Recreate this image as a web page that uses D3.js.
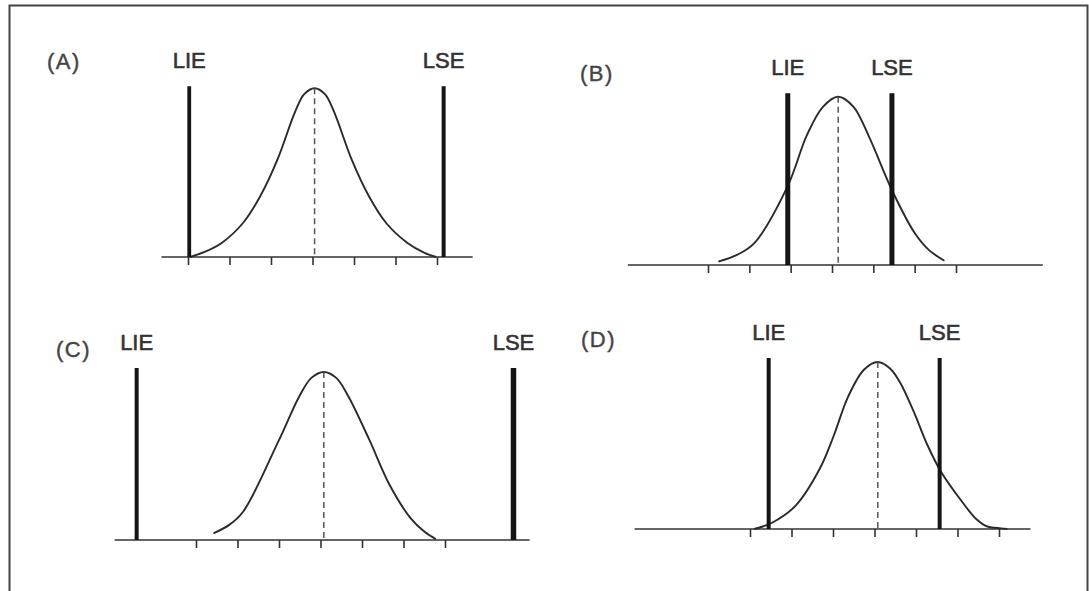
<!DOCTYPE html>
<html>
<head>
<meta charset="utf-8">
<script src="https://cdn.jsdelivr.net/npm/d3@7"></script>
<style>
  html, body { margin: 0; padding: 0; background: #fff; }
  svg { display: block; }
  text { font-family: "Liberation Sans", Arial, sans-serif; }
</style>
</head>
<body>
<svg id="chart" width="1089" height="591"></svg>
<script>
// ---------- data (x in process-standard-deviation tick units, y relative density) ----------
const panelNames = ["(A)", "(B)", "(C)", "(D)"];
const tickValues = [-3, -2, -1, 0, 1, 2, 3];
const limitLabels = ["LIE", "LSE"];

// specification limits [LIE, LSE]
const limitsA = [-2.97, 3.16];
const limitsB = [-1.07, 1.45];
const limitsC = [-4.43, 4.65];
const limitsD = [-2.55, 1.57];

// height of the limit bars (relative to curve peak = 1)
const barHeights = [1.012, 1.02, 1.024, 1.024];

// process mean
const meansA = 0.05, meansB = 0.15, meansC = 0.08, meansD = 0.08;

// extent of the base line
const axisA = [-3.64, 3.86];
const axisB = [-4.94, 5.1];
const axisC = [-4.96, 5.04];
const axisD = [-5.78, 3.76];

// distribution curves: [x, relative height]
const curveA = [[-2.95,0],[-2.6,0.03],[-2.18,0.085],[-1.68,0.2],[-1.26,0.36],[-0.84,0.58],[-0.42,0.86],[-0.2,0.965],[0.05,1],[0.3,0.965],[0.52,0.86],[0.94,0.58],[1.36,0.36],[1.78,0.2],[2.28,0.085],[2.7,0.025],[2.98,0]];
const curveB = [[-2.75,0.02],[-2.3,0.06],[-1.88,0.13],[-1.07,0.47],[-0.61,0.77],[-0.22,0.94],[0.15,1],[0.52,0.94],[0.9,0.76],[1.44,0.45],[2.0,0.19],[2.34,0.09],[2.72,0.025]];
const curveC = [[-2.58,0.04],[-2.2,0.09],[-1.86,0.17],[-1.01,0.59],[-0.5,0.86],[-0.22,0.965],[0.08,1],[0.38,0.965],[0.66,0.86],[1.17,0.6],[1.66,0.33],[2.17,0.13],[2.5,0.05],[2.78,0.005]];
const curveD = [[-2.9,0],[-2.48,0.036],[-1.9,0.14],[-1.31,0.365],[-0.98,0.56],[-0.64,0.79],[-0.25,0.955],[0.08,1],[0.38,0.96],[0.61,0.88],[0.95,0.70],[1.28,0.5],[1.61,0.34],[2.12,0.16],[2.45,0.06],[2.72,0.015],[3.05,0.004],[3.2,0]];

// ---------- layout ----------
const layout = [
  { tick0: 188, tick6: 437, base: 257, peak: 88.3, label: [47, 69] },
  { tick0: 708, tick6: 956, base: 265, peak: 96.7, label: [580, 81] },
  { tick0: 196, tick6: 445, base: 540, peak: 372, label: [56, 357] },
  { tick0: 750, tick6: 999, base: 529, peak: 362, label: [581, 347] }
];
const barWidths = [[3.8, 4], [5, 5], [4, 5.5], [4, 4]];

const panels = [
  { limits: limitsA, mean: meansA, axis: axisA, curve: curveA },
  { limits: limitsB, mean: meansB, axis: axisB, curve: curveB },
  { limits: limitsC, mean: meansC, axis: axisC, curve: curveC },
  { limits: limitsD, mean: meansD, axis: axisD, curve: curveD }
];

const svg = d3.select("#chart");

// frame
svg.append("rect")
  .attr("x", 9.5).attr("y", 5.5)
  .attr("width", 1078).attr("height", 620)
  .attr("fill", "none").attr("stroke", "#444").attr("stroke-width", 2);

panels.forEach((p, i) => {
  const L = layout[i];
  const x = d3.scaleLinear().domain([-3, 3]).range([L.tick0, L.tick6]);
  const y = d3.scaleLinear().domain([0, 1]).range([L.base, L.peak]);
  const g = svg.append("g");

  // base line
  g.append("line")
    .attr("x1", x(p.axis[0])).attr("x2", x(p.axis[1]))
    .attr("y1", y(0)).attr("y2", y(0))
    .attr("stroke", "#333").attr("stroke-width", 1.7);

  // ticks
  const ax = d3.axisBottom(x).tickValues(tickValues).tickSize(8).tickFormat("");
  const axG = g.append("g").attr("transform", `translate(0,${y(0)})`).call(ax);
  axG.select(".domain").remove();
  axG.selectAll(".tick line").attr("stroke", "#333").attr("stroke-width", 1.6);

  // curve
  const line = d3.line().x(d => x(d[0])).y(d => y(d[1])).curve(d3.curveCatmullRom.alpha(0.5));
  g.append("path").datum(p.curve)
    .attr("d", line)
    .attr("fill", "none").attr("stroke", "#2a2a2a").attr("stroke-width", 1.9);

  // mean dashed line
  g.append("line")
    .attr("x1", x(p.mean)).attr("x2", x(p.mean))
    .attr("y1", y(1)).attr("y2", y(0))
    .attr("stroke", "#555").attr("stroke-width", 1.5)
    .attr("stroke-dasharray", "6,4");

  // specification limit bars
  p.limits.forEach((v, j) => {
    g.append("line")
      .attr("x1", x(v)).attr("x2", x(v))
      .attr("y1", y(barHeights[i])).attr("y2", y(0))
      .attr("stroke", "#151515").attr("stroke-width", barWidths[i][j]);
    g.append("text")
      .attr("x", x(v)).attr("y", y(barHeights[i]) - 18)
      .attr("text-anchor", "middle")
      .attr("font-size", 22).attr("fill", "#333")
      .attr("stroke", "#333").attr("stroke-width", 0.6)
      .text(limitLabels[j]);
  });

  // panel label
  g.append("text")
    .attr("x", L.label[0]).attr("y", L.label[1])
    .attr("font-size", 22).attr("fill", "#444")
    .attr("stroke", "#444").attr("stroke-width", 0.4)
    .attr("letter-spacing", 1.5)
    .text(panelNames[i]);
});
</script>
</body>
</html>
